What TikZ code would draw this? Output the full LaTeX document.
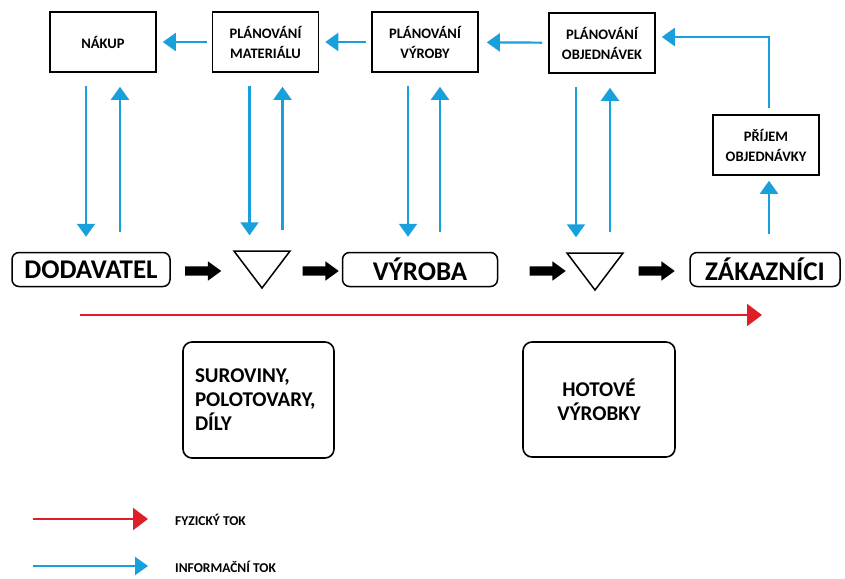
\documentclass[tikz,border=0pt]{standalone}
\usepackage{fontspec}
\setmainfont{Carlito}
\usepackage{tikz}
\usetikzlibrary{calc,arrows.meta,shapes.geometric,shapes.arrows}
\definecolor{infoblue}{RGB}{24,160,220}
\definecolor{fyzred}{RGB}{222,30,40}
\tikzset{
	plan/.style={draw,line width=1.6pt,minimum width=106pt,minimum height=60pt,inner sep=2pt,align=center,font=\bfseries\fontsize{14.5}{20}\selectfont},
	station/.style={draw,rounded corners=7pt,line width=1.5pt,minimum height=34pt,inner xsep=4pt,font=\bfseries\fontsize{27}{30}\selectfont},
	stock/.style={draw,line width=1.5pt,isosceles triangle,isosceles triangle stretches,shape border rotate=-90,minimum width=56pt,minimum height=37pt,inner sep=0pt},
	blockarrow/.style={single arrow,fill=black,minimum height=36pt,inner xsep=0pt,inner ysep=4.5pt,single arrow head extend=5pt,single arrow tip angle=72},
	store/.style={draw,rounded corners=9pt,line width=1.6pt,font=\bfseries\fontsize{21}{24}\selectfont},
	info/.style={draw=infoblue,line width=2.2pt,-{Triangle[length=13pt,width=18pt]},color=infoblue},
	fyz/.style={draw=fyzred,line width=2.2pt,-{Triangle[length=15pt,width=22pt]},color=fyzred},
	legend/.style={font=\bfseries\fontsize{13.5}{15}\selectfont,anchor=west,inner sep=0pt},
}
\begin{document}
\begin{tikzpicture}[x=1pt,y=-1pt]
	\useasboundingbox (0,0) rectangle (845,578);
	
	% planning boxes
	\node[plan] (nak) at (103,42) {NÁKUP};
	\node[plan] (pm) at (265.5,42) {PLÁNOVÁNÍ\\MATERIÁLU};
	\node[plan] (pv) at (425,42) {PLÁNOVÁNÍ\\VÝROBY};
	\node[plan] (po) at (602,43) {PLÁNOVÁNÍ\\OBJEDNÁVEK};
	\node[plan] (pri) at (766,145) {PŘÍJEM\\OBJEDNÁVKY};
	
	% material flow row
	\node[station,minimum width=158pt] (dod) at (91,269.5) {DODAVATEL};
	\node[stock,anchor=apex] (buf1) at (262,290) {};
	\node[station,minimum width=155pt] (vyr) at (420,269.5) {VÝROBA};
	\node[stock,anchor=apex] (buf2) at (595,292) {};
	\node[station,minimum width=150pt] (zak) at (765,269.5) {ZÁKAZNÍCI};
	
	% black block arrows
	\foreach \x/\n in {200/1,317.5/2,544.5/3,653.5/4}
		\node[blockarrow] (ba\n) at (\x,271) {};
	
	% physical flow
	\coordinate (fyzA) at (80,315);
	\coordinate (fyzB) at (762,315);
	\draw[fyz] (fyzA) -- (fyzB);
	
	% stocks
	\node[store,minimum width=151pt,minimum height=116pt,text width=127pt,align=left] (sur) at (258.5,400) {SUROVINY,\\POLOTOVARY,\\DÍLY};
	\node[store,minimum width=152pt,minimum height=115pt,align=center] (hot) at (599,399.5) {HOTOVÉ\\VÝROBKY};
	
	% information flow
	\draw[info,shorten <=5pt,shorten >=6pt] (pm) -- (nak);
	\draw[info,shorten <=5pt,shorten >=6pt] (pv) -- (pm);
	\draw[info,shorten <=6pt,shorten >=8pt] (po) -- (pv);
	\foreach \pl/\fl/\dn/\up in {nak/dod/-17/17,pm/buf1/-16/17,pv/vyr/-17/15,po/buf2/-26/8} {
		\draw[info,shorten <=13pt,shorten >=15pt] ([xshift=\dn pt]\pl.south) -- ([xshift=\dn pt]\pl.south |- \fl.north);
		\draw[info,shorten <=20pt,shorten >=14pt] ([xshift=\up pt]\pl.south |- \fl.north) -- ([xshift=\up pt]\pl.south);
	}
	\draw[info,shorten <=18pt,shorten >=5pt] ([xshift=3pt]pri.south |- zak.north) -- ([xshift=3pt]pri.south);
	\draw[info,shorten <=6pt,shorten >=6pt] ([xshift=3pt]pri.north) |- ([yshift=6pt]po.east);
	
	% legend
	\node[legend] (lfyz) at (175,520) {FYZICKÝ TOK};
	\node[legend] (linf) at (175,567) {INFORMAČNÍ TOK};
	\coordinate (lfyz0) at (33,519);
	\coordinate (linf0) at (33,566);
	\draw[fyz,shorten >=27pt] (lfyz0) -- (lfyz0 -| lfyz.west);
	\draw[info,shorten >=27pt] (linf0) -- (linf0 -| linf.west);
	
\end{tikzpicture}
\end{document}
